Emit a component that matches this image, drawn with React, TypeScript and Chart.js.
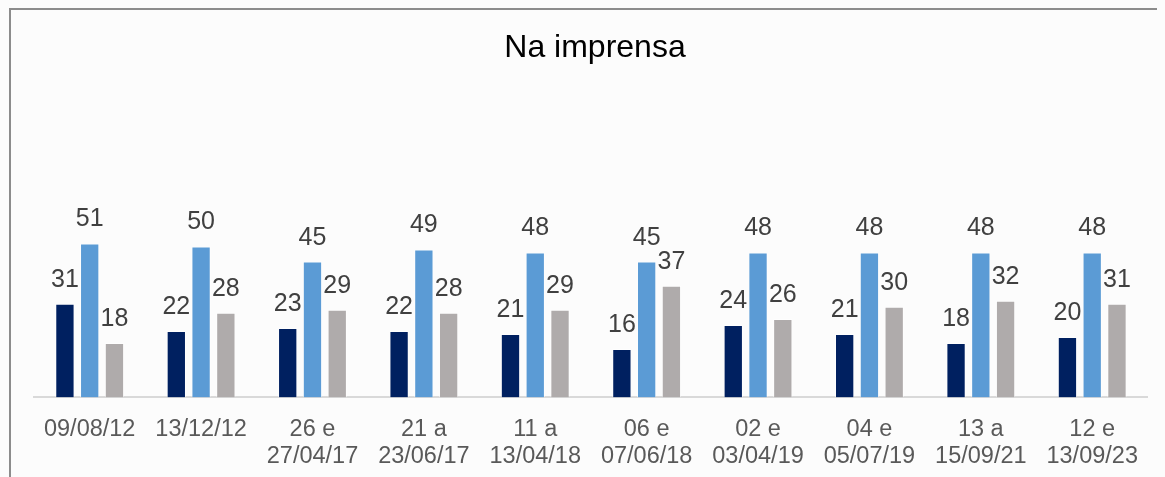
import React, { useEffect, useRef } from "react";
import { Chart, registerables } from "chart.js";

Chart.register(...registerables);

const TITLE = "Na imprensa";
const CATEGORIES: string[][] = [
  ["09/08/12"],
  ["13/12/12"],
  ["26 e", "27/04/17"],
  ["21 a", "23/06/17"],
  ["11 a", "13/04/18"],
  ["06 e", "07/06/18"],
  ["02 e", "03/04/19"],
  ["04 e", "05/07/19"],
  ["13 a", "15/09/21"],
  ["12 e", "13/09/23"],
];
const SERIES_NAMES = ["Série 1", "Série 2", "Série 3"];
const SERIES_1 = [31, 22, 23, 22, 21, 16, 24, 21, 18, 20];
const SERIES_2 = [51, 50, 45, 49, 48, 45, 48, 48, 48, 48];
const SERIES_3 = [18, 28, 29, 28, 29, 37, 26, 30, 32, 31];
const COLORS = ["#002060", "#5B9BD5", "#AFABAB"];

const FONT = "'Liberation Sans', Arial, sans-serif";

const valueLabels = {
  id: "valueLabels",
  afterDatasetsDraw(chart: any) {
    const ctx = chart.ctx;
    ctx.save();
    ctx.font = `25px ${FONT}`;
    ctx.fillStyle = "#404040";
    ctx.textAlign = "center";
    ctx.textBaseline = "alphabetic";
    chart.data.datasets.forEach((ds: any, i: number) => {
      const meta = chart.getDatasetMeta(i);
      meta.data.forEach((el: any, j: number) => {
        ctx.fillText(String(ds.data[j]), el.x, el.y - 17);
      });
    });
    ctx.restore();
  },
};

export default function App() {
  const ref = useRef<HTMLCanvasElement>(null);
  useEffect(() => {
    document.body.style.background = "#fcfcfc";
    document.documentElement.style.overflow = "hidden";
    const seriesValues = [SERIES_1, SERIES_2, SERIES_3];
    const chart = new Chart(ref.current!, {
      type: "bar",
      data: {
        labels: CATEGORIES,
        datasets: seriesValues.map((vals, i) => ({
          label: SERIES_NAMES[i],
          data: vals,
          backgroundColor: COLORS[i],
          borderColor: "rgba(255,255,255,0.55)",
          borderWidth: 1,
          categoryPercentage: 0.667,
          barPercentage: 0.78,
        })),
      },
      options: {
        animation: false,
        responsive: false,
        maintainAspectRatio: false,
        layout: { padding: { left: 23, right: 1, top: 0, bottom: 0 } },
        plugins: {
          legend: { display: false },
          tooltip: { enabled: false },
          title: {
            display: true,
            text: TITLE,
            color: "#000000",
            font: { family: FONT, size: 32, weight: "normal" },
            padding: { top: 19, bottom: 28 },
          },
        },
        scales: {
          x: {
            grid: { display: false, drawTicks: false },
            border: { display: true, color: "#d9d9d9", width: 2 },
            ticks: {
              color: "#595959",
              font: { family: FONT, size: 23.5, lineHeight: 1.14 },
              padding: 19,
              maxRotation: 0,
              autoSkip: false,
            },
          },
          y: {
            display: false,
            min: 0,
            max: 100,
          },
        },
      },
      plugins: [valueLabels],
    });
    return () => chart.destroy();
  }, []);
  return (
    <div
      style={{
        borderTop: "2px solid #8c8c8c",
        borderLeft: "2px solid #8c8c8c",
        marginLeft: 1,
        width: 1148,
        height: 469,
        background: "#fcfcfc",
        overflow: "hidden",
      }}
    >
      <canvas ref={ref} width={1146} height={479} style={{ display: "block" }} />
    </div>
  );
}
